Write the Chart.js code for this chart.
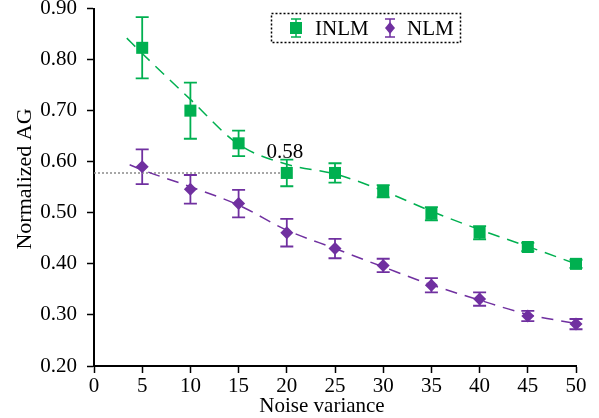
<!DOCTYPE html>
<html lang="en">
<head>
<meta charset="UTF-8">
<title>Normalized AG</title>
<script src="https://cdn.jsdelivr.net/npm/chart.js"></script>
<style>
  body { margin: 0; background: #fff; }
  #wrap { width: 599px; height: 418px; }
</style>
</head>
<body>
<div id="wrap"><canvas id="agChart" width="599" height="418"></canvas></div>
<script>
// values
const noiseVar = [5, 10, 15, 20, 25, 30, 35, 40, 45, 50];
const inlmVals = [0.823, 0.700, 0.636, 0.578, 0.578, 0.542, 0.498, 0.461, 0.433, 0.400];
const inlmErr  = [0.060, 0.055, 0.025, 0.026, 0.019, 0.012, 0.013, 0.013, 0.008, 0.008];
const nlmVals  = [0.590, 0.546, 0.518, 0.461, 0.430, 0.397, 0.358, 0.331, 0.298, 0.282];
const nlmErr   = [0.034, 0.028, 0.027, 0.027, 0.019, 0.013, 0.014, 0.013, 0.010, 0.010];

// dashed trend curves
const inlmFitX = [3.4, 5, 10, 15, 20, 25, 30, 35, 40, 45, 50];
const inlmFit  = [0.842, 0.812, 0.722, 0.634, 0.595, 0.576, 0.543, 0.503, 0.467, 0.434, 0.400];
const nlmFitX  = [3.7, 5, 10, 15, 20, 25, 30, 35, 40, 45, 50];
const nlmFit   = [0.594, 0.584, 0.551, 0.515, 0.466, 0.430, 0.394, 0.359, 0.329, 0.301, 0.283];

// reference level at x = 20
const refX = [0, 20];
const refLevel = 0.578;
const refLabel = '0.58';

const xTicks = [0, 5, 10, 15, 20, 25, 30, 35, 40, 45, 50];
const yTicks = ['0.20', '0.30', '0.40', '0.50', '0.60', '0.70', '0.80', '0.90'];

const GREEN = '#00b050';
const PURPLE = '#7030a0';
const FONT = "'Liberation Serif', 'Times New Roman', serif";

const pts = (xs, ys) => xs.map((x, i) => ({x: x, y: ys[i]}));

// error bars, drawn under the markers
const errorBars = {
  id: 'errorBars',
  beforeDatasetsDraw(chart) {
    const {ctx, scales: {x, y}} = chart;
    const draw = (vals, errs, color) => {
      ctx.save();
      ctx.strokeStyle = color;
      ctx.lineWidth = 1.8;
      noiseVar.forEach((v, i) => {
        const px = x.getPixelForValue(v);
        const top = y.getPixelForValue(vals[i] + errs[i]);
        const bot = y.getPixelForValue(vals[i] - errs[i]);
        ctx.beginPath();
        ctx.moveTo(px, top); ctx.lineTo(px, bot);
        ctx.moveTo(px - 6.5, top); ctx.lineTo(px + 6.5, top);
        ctx.moveTo(px - 6.5, bot); ctx.lineTo(px + 6.5, bot);
        ctx.stroke();
      });
      ctx.restore();
    };
    draw(inlmVals, inlmErr, GREEN);
    draw(nlmVals, nlmErr, PURPLE);
  }
};

// titles, the 0.58 note and the boxed legend
const extras = {
  id: 'extras',
  afterDraw(chart) {
    const {ctx, scales: {x, y}} = chart;
    ctx.save();
    ctx.fillStyle = '#000';
    ctx.textAlign = 'center';
    ctx.textBaseline = 'middle';
    ctx.font = '21px ' + FONT;
    ctx.fillText('Noise variance', 322, 406);
    ctx.save();
    ctx.translate(25, 179);
    ctx.rotate(-Math.PI / 2);
    ctx.font = '22px ' + FONT;
    ctx.fillText('Normalized AG', 0, 0);
    ctx.restore();

    ctx.font = '21px ' + FONT;
    ctx.textBaseline = 'alphabetic';
    ctx.fillText(refLabel, x.getPixelForValue(20) - 2, y.getPixelForValue(refLevel) - 15);

    // legend box
    ctx.setLineDash([2, 2]);
    ctx.lineWidth = 1.5;
    ctx.strokeStyle = '#000';
    ctx.strokeRect(271.5, 13.5, 189, 29);
    ctx.setLineDash([]);

    const icon = (cx, color, diamond) => {
      const cy = 28;
      ctx.strokeStyle = color;
      ctx.fillStyle = color;
      ctx.lineWidth = 1.5;
      ctx.beginPath();
      ctx.moveTo(cx, cy - 9); ctx.lineTo(cx, cy + 9);
      ctx.moveTo(cx - 5, cy - 9); ctx.lineTo(cx + 5, cy - 9);
      ctx.moveTo(cx - 5, cy + 9); ctx.lineTo(cx + 5, cy + 9);
      ctx.stroke();
      ctx.beginPath();
      if (diamond) {
        ctx.moveTo(cx, cy - 6); ctx.lineTo(cx + 5, cy);
        ctx.lineTo(cx, cy + 6); ctx.lineTo(cx - 5, cy);
      } else {
        ctx.rect(cx - 6, cy - 6, 12, 12);
      }
      ctx.fill();
    };
    icon(296, GREEN, false);
    icon(390, PURPLE, true);
    ctx.fillStyle = '#000';
    ctx.textAlign = 'left';
    ctx.textBaseline = 'middle';
    ctx.fillText('INLM', 315, 29);
    ctx.fillText('NLM', 407, 29);
    ctx.restore();
  }
};

const ctx = document.getElementById('agChart');

new Chart(ctx, {
  type: 'scatter',
  data: {
    datasets: [
      {
        label: 'INLM',
        data: pts(noiseVar, inlmVals),
        backgroundColor: GREEN,
        borderColor: GREEN,
        pointStyle: 'rect',
        pointRadius: 8.5,
        borderWidth: 0,
        clip: false,
        order: 0
      },
      {
        label: 'NLM',
        data: pts(noiseVar, nlmVals),
        backgroundColor: PURPLE,
        borderColor: PURPLE,
        pointStyle: 'rectRot',
        pointRadius: 6.5,
        borderWidth: 0,
        clip: false,
        order: 0
      },
      {
        label: 'INLM fit',
        data: pts(inlmFitX, inlmFit),
        showLine: true,
        borderColor: GREEN,
        borderWidth: 1.5,
        borderDash: [12, 8],
        pointRadius: 0,
        cubicInterpolationMode: 'monotone',
        clip: false,
        order: 1
      },
      {
        label: 'NLM fit',
        data: pts(nlmFitX, nlmFit),
        showLine: true,
        borderColor: PURPLE,
        borderWidth: 1.5,
        borderDash: [12, 8],
        pointRadius: 0,
        cubicInterpolationMode: 'monotone',
        clip: false,
        order: 1
      },
      {
        label: 'ref',
        data: refX.map(v => ({x: v, y: refLevel})),
        showLine: true,
        borderColor: '#8a8a8a',
        borderWidth: 1.5,
        borderDash: [2, 2],
        pointRadius: 0,
        order: 2
      }
    ]
  },
  options: {
    responsive: false,
    animation: false,
    layout: { padding: { top: 7.6, right: 23, left: 0, bottom: 0 } },
    plugins: { legend: { display: false }, tooltip: { enabled: false } },
    scales: {
      x: {
        type: 'linear',
        min: 0,
        max: 50,
        afterBuildTicks: s => { s.ticks = xTicks.map(v => ({value: v})); },
        afterFit: s => { s.height = 52; s.paddingLeft = 0; s.paddingRight = 0; },
        grid: { drawOnChartArea: false, tickLength: 7, tickColor: '#000', tickWidth: 1.5 },
        border: { color: '#000', width: 2 },
        ticks: { color: '#000', padding: 1, maxRotation: 0, font: { family: FONT, size: 21 } }
      },
      y: {
        min: 0.2,
        max: 0.9,
        afterBuildTicks: s => { s.ticks = yTicks.map(t => ({value: parseFloat(t)})); },
        afterFit: s => { s.width = 94; s.paddingTop = 0; s.paddingBottom = 0; },
        grid: { drawOnChartArea: false, tickLength: 7, tickColor: '#000', tickWidth: 1.5 },
        border: { color: '#000', width: 2 },
        ticks: {
          color: '#000',
          padding: 10,
          font: { family: FONT, size: 21 },
          callback: (v, i) => yTicks[i]
        }
      }
    }
  },
  plugins: [errorBars, extras]
});
</script>
</body>
</html>
